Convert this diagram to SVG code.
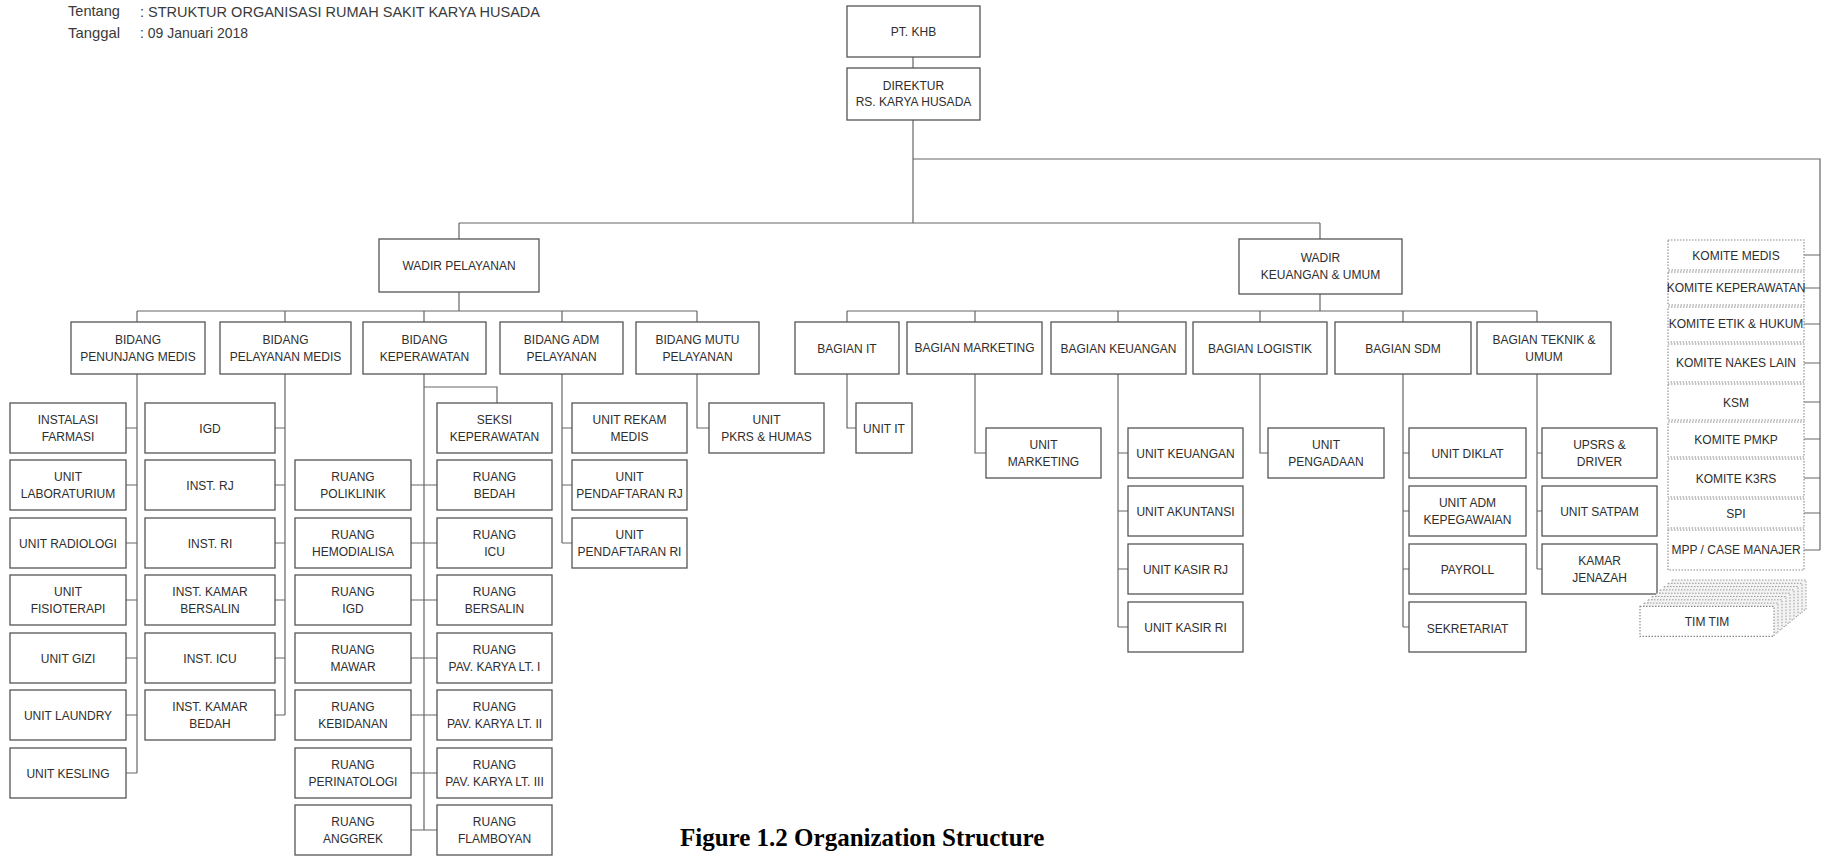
<svg xmlns="http://www.w3.org/2000/svg" width="1827" height="858" viewBox="0 0 1827 858">
<style>
.b{fill:#fff;stroke:#555;stroke-width:1.3}
.k{fill:#fff;stroke:#888;stroke-width:1.1;stroke-dasharray:1.5 1.5}
.sh{fill:#f3f3f3;stroke:#9a9a9a;stroke-width:1;stroke-dasharray:1.5 1.5}
.c{fill:none;stroke:#666;stroke-width:1.2}
text{font-family:"Liberation Sans Narrow","Liberation Sans",Arial,sans-serif;font-stretch:condensed;fill:#2e2e2e;font-size:12px;text-anchor:middle}
.h{text-anchor:start;font-size:15px;fill:#3a3a3a}
.cap{font-family:"Liberation Serif","Times New Roman",serif;font-weight:bold;font-size:25px;fill:#000;text-anchor:start}
</style>
<rect width="1827" height="858" fill="#fff"/>
<g id="header">
<text class="h" x="68" y="16" textLength="52" lengthAdjust="spacingAndGlyphs">Tentang</text>
<text class="h" x="140" y="17" textLength="400" lengthAdjust="spacingAndGlyphs">: STRUKTUR ORGANISASI RUMAH SAKIT KARYA HUSADA</text>
<text class="h" x="68" y="38" textLength="52" lengthAdjust="spacingAndGlyphs">Tanggal</text>
<text class="h" x="140" y="38" textLength="108" lengthAdjust="spacingAndGlyphs">: 09 Januari 2018</text>
</g>
<g id="connectors">
<path class="c" d="M913 57V68M913 120V223M459 223H1320M459 223V239M1320 223V239M913 159H1820V550"/>
<path class="c" d="M1804 255H1820M1804 288H1820M1804 324H1820M1804 363H1820M1804 402H1820M1804 439H1820M1804 478H1820M1804 513H1820M1804 550H1820"/>
<path class="c" d="M459 292V311M137 311H697M137 311V322M285 311V322M424 311V322M562 311V322M697 311V322"/>
<path class="c" d="M1320 294V311M847 311H1537M847 311V322M975 311V322M1118 311V322M1260 311V322M1403 311V322M1537 311V322"/>
<path class="c" d="M137 374V773M126 428H137M126 485H137M126 543H137M126 600H137M126 658H137M126 715H137M126 773H137"/>
<path class="c" d="M285 374V715M275 428H285M275 485H285M275 543H285M275 600H285M275 658H285M275 715H285"/>
<path class="c" d="M424 374V830M424 387H497V403M411 485H437M411 543H437M411 600H437M411 658H437M411 715H437M411 773H437M411 830H437"/>
<path class="c" d="M562 374V543M562 428H572M562 485H572M562 543H572"/>
<path class="c" d="M697 374V428H709M847 374V428H856M975 374V453H986M1260 374V453H1268"/>
<path class="c" d="M1118 374V627M1118 453H1128M1118 511H1128M1118 569H1128M1118 627H1128"/>
<path class="c" d="M1403 374V627M1403 453H1409M1403 511H1409M1403 569H1409M1403 627H1409"/>
<path class="c" d="M1537 374V569M1537 453H1542M1537 511H1542M1537 569H1542"/>
</g>
<g id="pt-khb"><rect class="b" x="847" y="6" width="133" height="51"/><text x="913.5" y="36" font-size="13">PT. KHB</text></g>
<g id="direktur"><rect class="b" x="847" y="68" width="133" height="52"/><text x="913.5" y="90" font-size="11">DIREKTUR</text><text x="913.5" y="106" font-size="11">RS. KARYA HUSADA</text></g>
<g id="wadir-pelayanan"><rect class="b" x="379" y="239" width="160" height="53"/><text x="459" y="270" font-size="12.5">WADIR PELAYANAN</text></g>
<g id="wadir-keuangan"><rect class="b" x="1239" y="239" width="163" height="55"/><text x="1320.5" y="262" font-size="12">WADIR</text><text x="1320.5" y="279" font-size="12">KEUANGAN &amp; UMUM</text></g>
<g id="bidang-penunjang"><rect class="b" x="71" y="322" width="134" height="52"/><text x="138" y="344">BIDANG</text><text x="138" y="361">PENUNJANG MEDIS</text></g>
<g id="bidang-pelayanan"><rect class="b" x="220" y="322" width="131" height="52"/><text x="285.5" y="344">BIDANG</text><text x="285.5" y="361">PELAYANAN MEDIS</text></g>
<g id="bidang-keperawatan"><rect class="b" x="363" y="322" width="123" height="52"/><text x="424.5" y="344">BIDANG</text><text x="424.5" y="361">KEPERAWATAN</text></g>
<g id="bidang-adm"><rect class="b" x="500" y="322" width="123" height="52"/><text x="561.5" y="344" font-size="11">BIDANG ADM</text><text x="561.5" y="361" font-size="11">PELAYANAN</text></g>
<g id="bidang-mutu"><rect class="b" x="636" y="322" width="123" height="52"/><text x="697.5" y="344" font-size="11">BIDANG MUTU</text><text x="697.5" y="361" font-size="11">PELAYANAN</text></g>
<g id="bagian-it"><rect class="b" x="795" y="322" width="104" height="52"/><text x="847" y="352.5" font-size="12.5">BAGIAN IT</text></g>
<g id="bagian-marketing"><rect class="b" x="907" y="322" width="135" height="52"/><text x="974.5" y="352" font-size="10.5">BAGIAN MARKETING</text></g>
<g id="bagian-keuangan"><rect class="b" x="1051" y="322" width="135" height="52"/><text x="1118.5" y="352.5" font-size="12.5">BAGIAN KEUANGAN</text></g>
<g id="bagian-logistik"><rect class="b" x="1193" y="322" width="134" height="52"/><text x="1260" y="352.5" font-size="12.5">BAGIAN  LOGISTIK</text></g>
<g id="bagian-sdm"><rect class="b" x="1335" y="322" width="136" height="52"/><text x="1403" y="352.5" font-size="12.5">BAGIAN SDM</text></g>
<g id="bagian-teknik"><rect class="b" x="1477" y="322" width="134" height="52"/><text x="1544" y="344" font-size="12">BAGIAN TEKNIK &amp;</text><text x="1544" y="361" font-size="12">UMUM</text></g>
<g id="instalasi-farmasi"><rect class="b" x="10" y="403" width="116" height="50"/><text x="68" y="424">INSTALASI</text><text x="68" y="441">FARMASI</text></g>
<g id="unit-lab"><rect class="b" x="10" y="460" width="116" height="50"/><text x="68" y="481">UNIT</text><text x="68" y="498" font-size="11">LABORATURIUM</text></g>
<g id="unit-radiologi"><rect class="b" x="10" y="518" width="116" height="50"/><text x="68" y="547.5" font-size="11.5">UNIT RADIOLOGI</text></g>
<g id="unit-fisioterapi"><rect class="b" x="10" y="575" width="116" height="50"/><text x="68" y="596">UNIT</text><text x="68" y="613">FISIOTERAPI</text></g>
<g id="unit-gizi"><rect class="b" x="10" y="633" width="116" height="50"/><text x="68" y="662.5">UNIT GIZI</text></g>
<g id="unit-laundry"><rect class="b" x="10" y="690" width="116" height="50"/><text x="68" y="719.5">UNIT LAUNDRY</text></g>
<g id="unit-kesling"><rect class="b" x="10" y="748" width="116" height="50"/><text x="68" y="777.5">UNIT KESLING</text></g>
<g id="igd"><rect class="b" x="145" y="403" width="130" height="50"/><text x="210" y="432.5">IGD</text></g>
<g id="inst-rj"><rect class="b" x="145" y="460" width="130" height="50"/><text x="210" y="489.5">INST. RJ</text></g>
<g id="inst-ri"><rect class="b" x="145" y="518" width="130" height="50"/><text x="210" y="547.5">INST. RI</text></g>
<g id="inst-kamar-bersalin"><rect class="b" x="145" y="575" width="130" height="50"/><text x="210" y="596">INST. KAMAR</text><text x="210" y="613">BERSALIN</text></g>
<g id="inst-icu"><rect class="b" x="145" y="633" width="130" height="50"/><text x="210" y="662.5">INST. ICU</text></g>
<g id="inst-kamar-bedah"><rect class="b" x="145" y="690" width="130" height="50"/><text x="210" y="711">INST. KAMAR</text><text x="210" y="728">BEDAH</text></g>
<g id="ruang-poliklinik"><rect class="b" x="295" y="460" width="116" height="50"/><text x="353" y="481">RUANG</text><text x="353" y="498">POLIKLINIK</text></g>
<g id="ruang-hemodialisa"><rect class="b" x="295" y="518" width="116" height="50"/><text x="353" y="539">RUANG</text><text x="353" y="556">HEMODIALISA</text></g>
<g id="ruang-igd"><rect class="b" x="295" y="575" width="116" height="50"/><text x="353" y="596">RUANG</text><text x="353" y="613">IGD</text></g>
<g id="ruang-mawar"><rect class="b" x="295" y="633" width="116" height="50"/><text x="353" y="654">RUANG</text><text x="353" y="671">MAWAR</text></g>
<g id="ruang-kebidanan"><rect class="b" x="295" y="690" width="116" height="50"/><text x="353" y="711">RUANG</text><text x="353" y="728">KEBIDANAN</text></g>
<g id="ruang-perinatologi"><rect class="b" x="295" y="748" width="116" height="50"/><text x="353" y="769">RUANG</text><text x="353" y="786">PERINATOLOGI</text></g>
<g id="ruang-anggrek"><rect class="b" x="295" y="805" width="116" height="50"/><text x="353" y="826">RUANG</text><text x="353" y="843">ANGGREK</text></g>
<g id="seksi-keperawatan"><rect class="b" x="437" y="403" width="115" height="50"/><text x="494.5" y="424">SEKSI</text><text x="494.5" y="441">KEPERAWATAN</text></g>
<g id="ruang-bedah"><rect class="b" x="437" y="460" width="115" height="50"/><text x="494.5" y="481">RUANG</text><text x="494.5" y="498">BEDAH</text></g>
<g id="ruang-icu"><rect class="b" x="437" y="518" width="115" height="50"/><text x="494.5" y="539">RUANG</text><text x="494.5" y="556">ICU</text></g>
<g id="ruang-bersalin"><rect class="b" x="437" y="575" width="115" height="50"/><text x="494.5" y="596">RUANG</text><text x="494.5" y="613">BERSALIN</text></g>
<g id="ruang-pav-1"><rect class="b" x="437" y="633" width="115" height="50"/><text x="494.5" y="654">RUANG</text><text x="494.5" y="671" font-size="11">PAV. KARYA LT. I</text></g>
<g id="ruang-pav-2"><rect class="b" x="437" y="690" width="115" height="50"/><text x="494.5" y="711">RUANG</text><text x="494.5" y="728" font-size="11">PAV. KARYA LT. II</text></g>
<g id="ruang-pav-3"><rect class="b" x="437" y="748" width="115" height="50"/><text x="494.5" y="769">RUANG</text><text x="494.5" y="786" font-size="11">PAV. KARYA LT. III</text></g>
<g id="ruang-flamboyan"><rect class="b" x="437" y="805" width="115" height="50"/><text x="494.5" y="826">RUANG</text><text x="494.5" y="843">FLAMBOYAN</text></g>
<g id="unit-rekam-medis"><rect class="b" x="572" y="403" width="115" height="50"/><text x="629.5" y="424">UNIT REKAM</text><text x="629.5" y="441">MEDIS</text></g>
<g id="unit-pendaftaran-rj"><rect class="b" x="572" y="460" width="115" height="50"/><text x="629.5" y="481" font-size="10.5">UNIT</text><text x="629.5" y="498" font-size="10.5">PENDAFTARAN RJ</text></g>
<g id="unit-pendaftaran-ri"><rect class="b" x="572" y="518" width="115" height="50"/><text x="629.5" y="539" font-size="10.5">UNIT</text><text x="629.5" y="556" font-size="10.5">PENDAFTARAN RI</text></g>
<g id="unit-pkrs"><rect class="b" x="709" y="403" width="115" height="50"/><text x="766.5" y="424" font-size="12.5">UNIT</text><text x="766.5" y="441" font-size="12.5">PKRS &amp; HUMAS</text></g>
<g id="unit-it"><rect class="b" x="856" y="403" width="56" height="50"/><text x="884" y="432.5">UNIT IT</text></g>
<g id="unit-marketing"><rect class="b" x="986" y="428" width="115" height="50"/><text x="1043.5" y="449">UNIT</text><text x="1043.5" y="466">MARKETING</text></g>
<g id="unit-keuangan"><rect class="b" x="1128" y="428" width="115" height="50"/><text x="1185.5" y="457.5">UNIT KEUANGAN</text></g>
<g id="unit-akuntansi"><rect class="b" x="1128" y="486" width="115" height="50"/><text x="1185.5" y="515.5">UNIT AKUNTANSI</text></g>
<g id="unit-kasir-rj"><rect class="b" x="1128" y="544" width="115" height="50"/><text x="1185.5" y="573.5">UNIT KASIR RJ</text></g>
<g id="unit-kasir-ri"><rect class="b" x="1128" y="602" width="115" height="50"/><text x="1185.5" y="631.5">UNIT KASIR RI</text></g>
<g id="unit-pengadaan"><rect class="b" x="1268" y="428" width="116" height="50"/><text x="1326" y="449">UNIT</text><text x="1326" y="466">PENGADAAN</text></g>
<g id="unit-diklat"><rect class="b" x="1409" y="428" width="117" height="50"/><text x="1467.5" y="457.5">UNIT DIKLAT</text></g>
<g id="unit-adm-kepegawaian"><rect class="b" x="1409" y="486" width="117" height="50"/><text x="1467.5" y="507">UNIT ADM</text><text x="1467.5" y="524">KEPEGAWAIAN</text></g>
<g id="payroll"><rect class="b" x="1409" y="544" width="117" height="50"/><text x="1467.5" y="574" font-size="13">PAYROLL</text></g>
<g id="sekretariat"><rect class="b" x="1409" y="602" width="117" height="50"/><text x="1467.5" y="633" font-size="15.5">SEKRETARIAT</text></g>
<g id="upsrs-driver"><rect class="b" x="1542" y="428" width="115" height="50"/><text x="1599.5" y="449">UPSRS &amp;</text><text x="1599.5" y="466">DRIVER</text></g>
<g id="unit-satpam"><rect class="b" x="1542" y="486" width="115" height="50"/><text x="1599.5" y="515.5">UNIT SATPAM</text></g>
<g id="kamar-jenazah"><rect class="b" x="1542" y="544" width="115" height="50"/><text x="1599.5" y="565">KAMAR</text><text x="1599.5" y="582">JENAZAH</text></g>
<g id="komite-medis"><rect class="k" x="1668" y="240" width="136" height="30"/><text x="1736" y="259.5">KOMITE MEDIS</text></g>
<g id="komite-keperawatan"><rect class="k" x="1668" y="272" width="136" height="33"/><text x="1736" y="291.5" font-size="8.5">KOMITE KEPERAWATAN</text></g>
<g id="komite-etik"><rect class="k" x="1668" y="307" width="136" height="35"/><text x="1736" y="327.5" font-size="8.5">KOMITE ETIK &amp; HUKUM</text></g>
<g id="komite-nakes"><rect class="k" x="1668" y="344" width="136" height="38"/><text x="1736" y="366.5" font-size="10">KOMITE NAKES LAIN</text></g>
<g id="ksm"><rect class="k" x="1668" y="384" width="136" height="36"/><text x="1736" y="406.5">KSM</text></g>
<g id="komite-pmkp"><rect class="k" x="1668" y="422" width="136" height="35"/><text x="1736" y="444">KOMITE PMKP</text></g>
<g id="komite-k3rs"><rect class="k" x="1668" y="459" width="136" height="38"/><text x="1736" y="482.5">KOMITE K3RS</text></g>
<g id="spi"><rect class="k" x="1668" y="499" width="136" height="29"/><text x="1736" y="518">SPI</text></g>
<g id="mpp"><rect class="k" x="1668" y="530" width="136" height="40"/><text x="1736" y="553.5" font-size="9">MPP / CASE MANAJER</text></g>
<g id="tim-tim">
<rect class="sh" x="1672" y="580" width="134" height="30"/>
<rect class="sh" x="1668" y="583.3" width="134" height="30"/>
<rect class="sh" x="1664" y="586.6" width="134" height="30"/>
<rect class="sh" x="1660" y="589.9" width="134" height="30"/>
<rect class="sh" x="1656" y="593.2" width="134" height="30"/>
<rect class="sh" x="1652" y="596.5" width="134" height="30"/>
<rect class="sh" x="1648" y="599.8" width="134" height="30"/>
<rect class="sh" x="1644" y="603.1" width="134" height="30"/>
<rect class="k" x="1640" y="606.4" width="134" height="30"/>
<text x="1707" y="625.5" font-size="10">TIM TIM</text>
</g>
<g id="caption"><text class="cap" x="680" y="846">Figure 1.2 Organization Structure</text></g>
</svg>
